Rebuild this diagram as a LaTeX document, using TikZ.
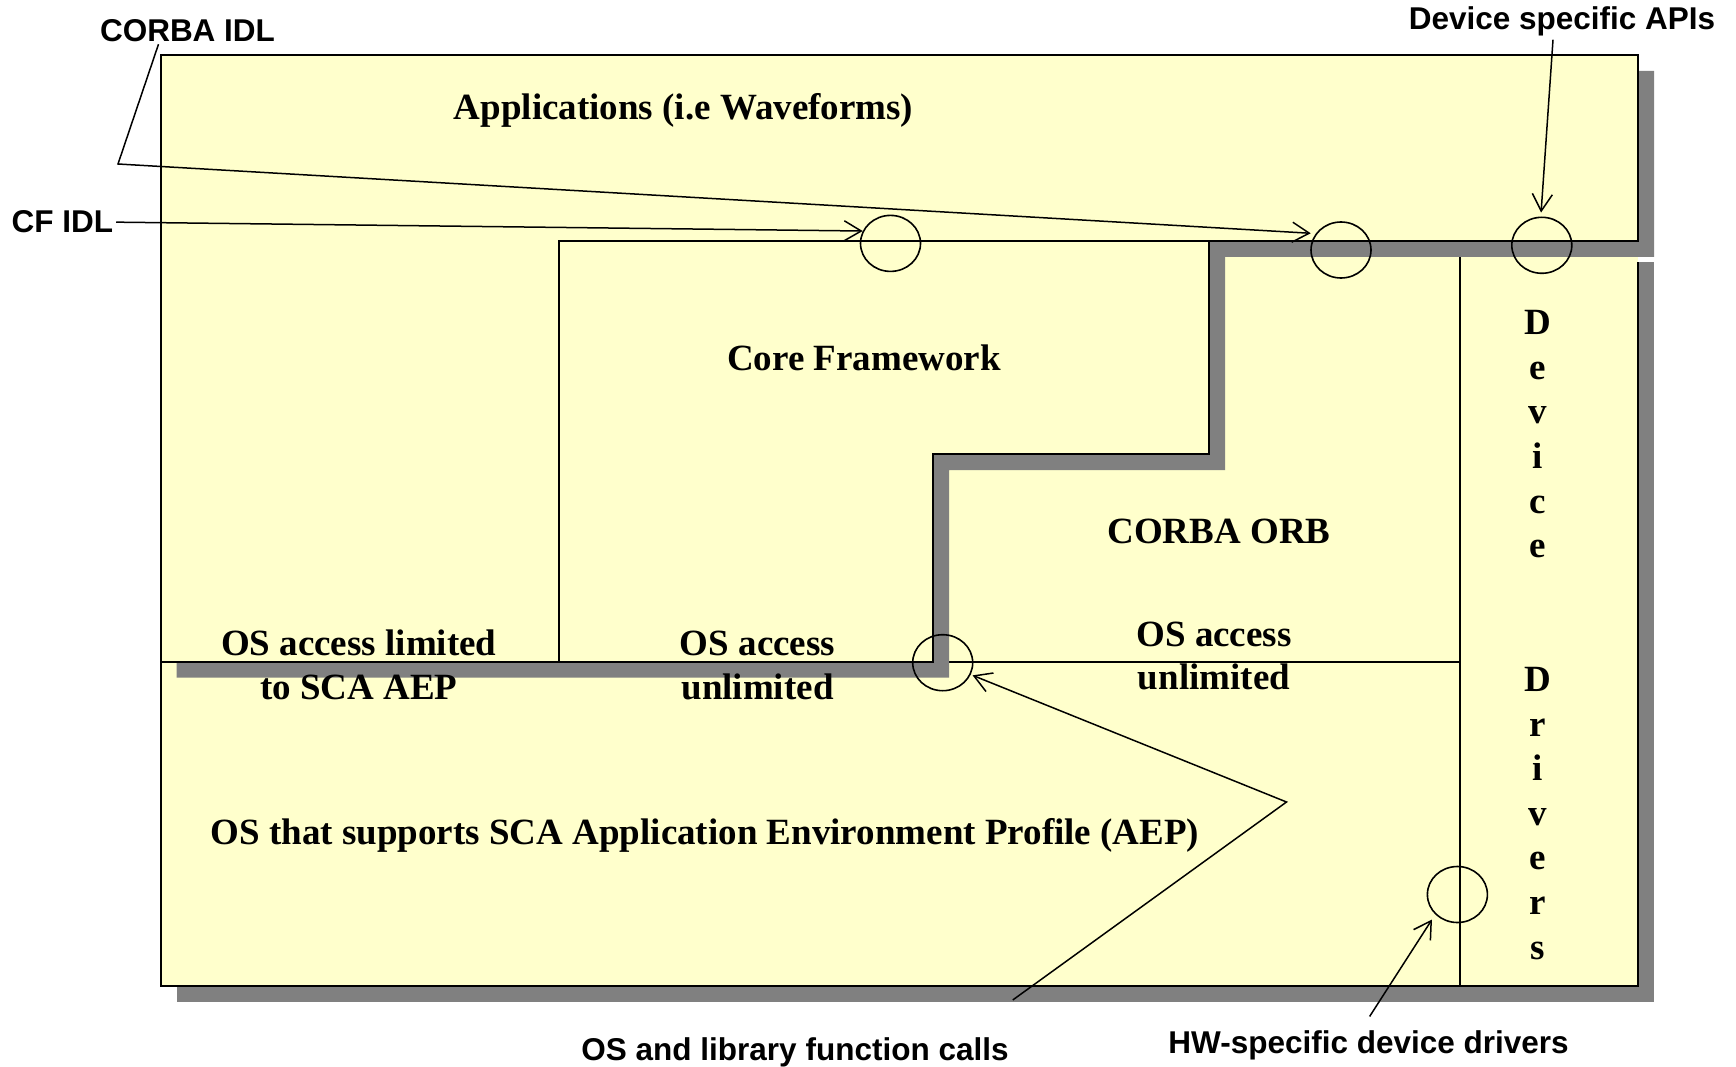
\documentclass[tikz,border=0pt]{standalone}
\usepackage{fontspec}
\setmainfont{Liberation Serif}
\newfontfamily\lblfont{Liberation Sans}
\usetikzlibrary{arrows.meta,shapes.geometric,calc}
\definecolor{layerfill}{RGB}{255,255,204}
\definecolor{shadowgray}{RGB}{128,128,128}
\begin{document}
\begin{tikzpicture}[x=1pt,y=-1pt,
  layer/.style={fill=layerfill, draw=black, line width=1.6pt, line join=miter},
  edge/.style={draw=black, line width=1.6pt},
  port/.style={ellipse, draw=black, line width=1.6pt, minimum width=60pt, minimum height=56pt, inner sep=0pt},
  blocktext/.style={font=\bfseries\fontsize{37}{43.5}\selectfont, align=center, anchor=base, inner sep=0pt},
  calltext/.style={font=\lblfont\bfseries\fontsize{31.5}{36}\selectfont, anchor=base, inner sep=3pt},
  leader/.style={draw=black, line width=1.5pt, -{Straight Barb[length=17pt,width=20pt]}},
]
% canvas
\fill[white] (0,0) rectangle (1736,1067);
\useasboundingbox (0,0) rectangle (1736,1067);

% lower layers: OS, CORBA ORB and device drivers, with their shadow
\fill[shadowgray] (176.7,262) rectangle (1654,1001.7);
\fill[layerfill] (160.7,241) rectangle (1638,985.7);
\draw[edge] (1638,262) -- (1638,985.7) -- (160.7,985.7) -- (160.7,661.7);
\draw[edge] (933,661.7) -- (1460,661.7);
\draw[edge] (1460,256.7) -- (1460,985.7);

% applications layer (stepped), shadow first
\fill[shadowgray, shift={(16,16)}]
  (160.7,55) -- (1638,55) -- (1638,241) -- (1209,241) -- (1209,454)
  -- (933,454) -- (933,661.7) -- (160.7,661.7) -- cycle;
\path[layer]
  (160.7,55) -- (1638,55) -- (1638,241) -- (1209,241) -- (1209,454)
  -- (933,454) -- (933,661.7) -- (160.7,661.7) -- cycle;

% core framework
\path[layer]
  (559,241) -- (1209,241) -- (1209,454) -- (933,454) -- (933,661.7)
  -- (559,661.7) -- cycle;

% interface ports
\node[port] (c1) at (890.5,243.4) {};
\node[port] (c2) at (1341,250) {};
\node[port] (c3) at (1541.8,245.3) {};
\node[port] (c4) at (942.7,662.7) {};
\node[port] (c5) at (1457.4,894.5) {};

% block labels (multi-line nodes sit on the baseline of their last line)
\node[blocktext] (apps) at (683.6,120) {Applications (i.e Waveforms)};
\node[blocktext] (cf) at (864,370) {Core Framework};
\node[blocktext] (orb) at (1219,543.5) {CORBA ORB};
\node[blocktext] (oslim) at (358.7,699) {OS access limited\\to SCA AEP};
\node[blocktext] (osfree) at (757.5,699) {OS access\\unlimited};
\node[blocktext] (osfreeorb) at (1214,689.5) {OS access\\unlimited};
\node[blocktext] (osaep) at (705,844) {OS that supports SCA Application Environment Profile (AEP)};
\node[blocktext, font=\bfseries\fontsize{37}{44.6}\selectfont] (devdrv) at (1538,959)
  {D\\e\\v\\i\\c\\e\\[89.2pt]D\\r\\i\\v\\e\\r\\s};

% callout labels
\node[calltext] (corbaidl) at (187.5,41.7) {CORBA IDL};
\node[calltext] (cfidl) at (62.3,233) {CF IDL};
\node[calltext] (devapi) at (1562,30) {Device specific APIs};
\node[calltext] (oscalls) at (795,1060) {OS and library function calls};
\node[calltext] (hwdrv) at (1368.6,1053.5) {HW-specific device drivers};

% leader lines
\coordinate (bendA) at (118,164);
\coordinate (bendB) at (1286.5,802);
\draw[leader, shorten >=5pt] ($(corbaidl.south)+(-29,-1)$) -- (bendA) -- (c2.147);
\draw[leader] (cfidl.east) -- (c1.156);
\draw[leader, shorten >=4pt] ($(devapi.south)+(-9,0)$) -- (c3.92);
\draw[leader, shorten >=2pt] ($(oscalls.north east)+(1,-34)$) -- (bendB) -- (c4.-23);
\draw[leader, shorten >=6pt] ($(hwdrv.north)+(1,-11)$) -- (c5.-138);
\end{tikzpicture}
\end{document}
